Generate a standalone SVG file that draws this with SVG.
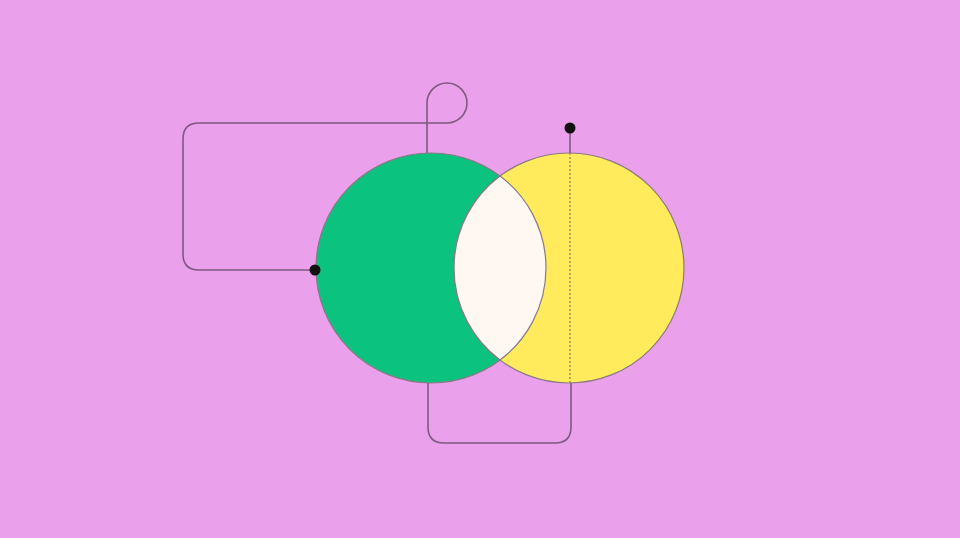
<svg xmlns="http://www.w3.org/2000/svg" width="960" height="538" viewBox="0 0 960 538">
<style>
.ln{fill:none;stroke:#7d5a7f;stroke-width:1.6}
.dash{fill:none;stroke:#8c7a60;stroke-width:1.2;stroke-dasharray:2 2}
.edge{stroke:#8a7a86;stroke-width:1.2}
.dot{fill:#111}
</style>
<rect width="960" height="538" fill="#EAA0EA"/>
<g id="connectors">
<path class="ln" d="M315,270 H199 Q183,270 183,254 V139 Q183,123 199,123 H447 A20,20 0 1 0 427,103 V153"/>
<path class="ln" d="M428,383 V427 Q428,443 444,443 H555 Q571,443 571,427 V383"/>
<path class="ln" d="M570,128 V153"/>
</g>
<g id="green">
<circle cx="431" cy="268" r="115" fill="#0BC27E" class="edge"/>
</g>
<g id="yellow">
<circle cx="569" cy="268" r="115" fill="#FFEB5B" class="edge"/>
</g>
<g id="overlap">
<path d="M500,176 A115,115 0 0 1 500,360 A115,115 0 0 1 500,176 Z" fill="#FFF8F2" class="edge"/>
</g>
<g id="axis">
<line class="dash" x1="570" y1="153" x2="570" y2="383"/>
</g>
<g id="dots">
<circle class="dot" cx="315" cy="270" r="5.5"/>
<circle class="dot" cx="570" cy="128" r="5.5"/>
</g>
</svg>
